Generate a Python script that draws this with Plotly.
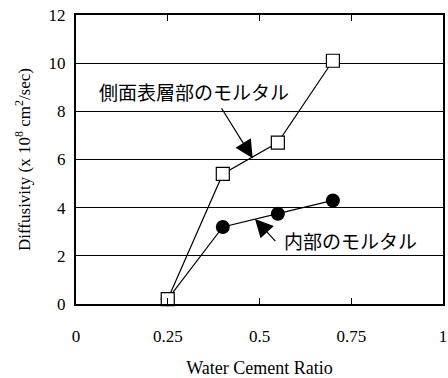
import plotly.graph_objects as go

x_wc = [0.25, 0.40, 0.55, 0.70]
surface = [0.2, 5.4, 6.7, 10.1]
inner = [0.2, 3.2, 3.75, 4.3]
x_ticks = [0, 0.25, 0.5, 0.75, 1]
x_tick_labels = ["0", "0.25", "0.5", "0.75", "1"]
y_ticks = [0, 2, 4, 6, 8, 10, 12]

serif = "Liberation Serif"
jp = "Noto Sans CJK JP"

fig = go.Figure()
fig.add_trace(go.Scatter(x=x_wc, y=inner, mode="lines+markers",
                         line=dict(color="black", width=1.2),
                         marker=dict(symbol="circle", size=14, color="black"),
                         showlegend=False, cliponaxis=False))
fig.add_trace(go.Scatter(x=x_wc, y=surface, mode="lines+markers",
                         line=dict(color="black", width=1.2),
                         marker=dict(symbol="square", size=13, color="white",
                                     line=dict(color="black", width=1.2)),
                         showlegend=False, cliponaxis=False))

fig.add_annotation(x=0.3215, y=8.82, text="側面表層部のモルタル", showarrow=False,
                   font=dict(family=jp, size=19, color="black"))
fig.add_annotation(x=0.4815, y=6.05, ax=0.394, ay=8.19, axref="x", ayref="y",
                   xref="x", yref="y", text="", showarrow=True,
                   arrowhead=2, arrowsize=3, arrowwidth=1.2, arrowcolor="black")
fig.add_annotation(x=0.747, y=2.62, text="内部のモルタル", showarrow=False,
                   font=dict(family=jp, size=19, color="black"))
fig.add_annotation(x=0.4877, y=3.53, ax=0.547, ay=2.55, axref="x", ayref="y",
                   xref="x", yref="y", text="", showarrow=True,
                   arrowhead=2, arrowsize=3, arrowwidth=1.2, arrowcolor="black")

fig.update_layout(
    width=448, height=378,
    margin=dict(l=76, r=5, t=15, b=74),
    paper_bgcolor="white", plot_bgcolor="white",
    font=dict(family=serif, size=17, color="black"),
)
fig.update_xaxes(range=[0, 1], tickvals=x_ticks, ticktext=x_tick_labels,
                 ticks="inside", ticklen=6, tickcolor="black", mirror="ticks",
                 showline=True, linecolor="black", linewidth=2,
                 showgrid=False, zeroline=False, automargin=False,
                 ticklabeloverflow="allow", ticklabelstandoff=16,
                 title=dict(text="Water Cement Ratio", font=dict(family=serif, size=18), standoff=19),
                 tickfont=dict(family=serif, size=17))
fig.update_yaxes(range=[0, 12], tickvals=y_ticks,
                 ticks="", mirror=True,
                 showline=True, linecolor="black", linewidth=2,
                 showgrid=True, gridcolor="black", gridwidth=1, zeroline=False,
                 automargin=False, ticklabeloverflow="allow", ticklabelstandoff=5,
                 title=dict(text="Diffusivity (x 10<sup>8</sup> cm<sup>2</sup>/sec)",
                            font=dict(family=serif, size=17), standoff=14),
                 tickfont=dict(family=serif, size=17))

# remove the default 8px page margin so the figure sits at the window's top-left corner
fig.write_html("out.html", config={"displayModeBar": False},
               post_script="document.body.style.margin='0';")
